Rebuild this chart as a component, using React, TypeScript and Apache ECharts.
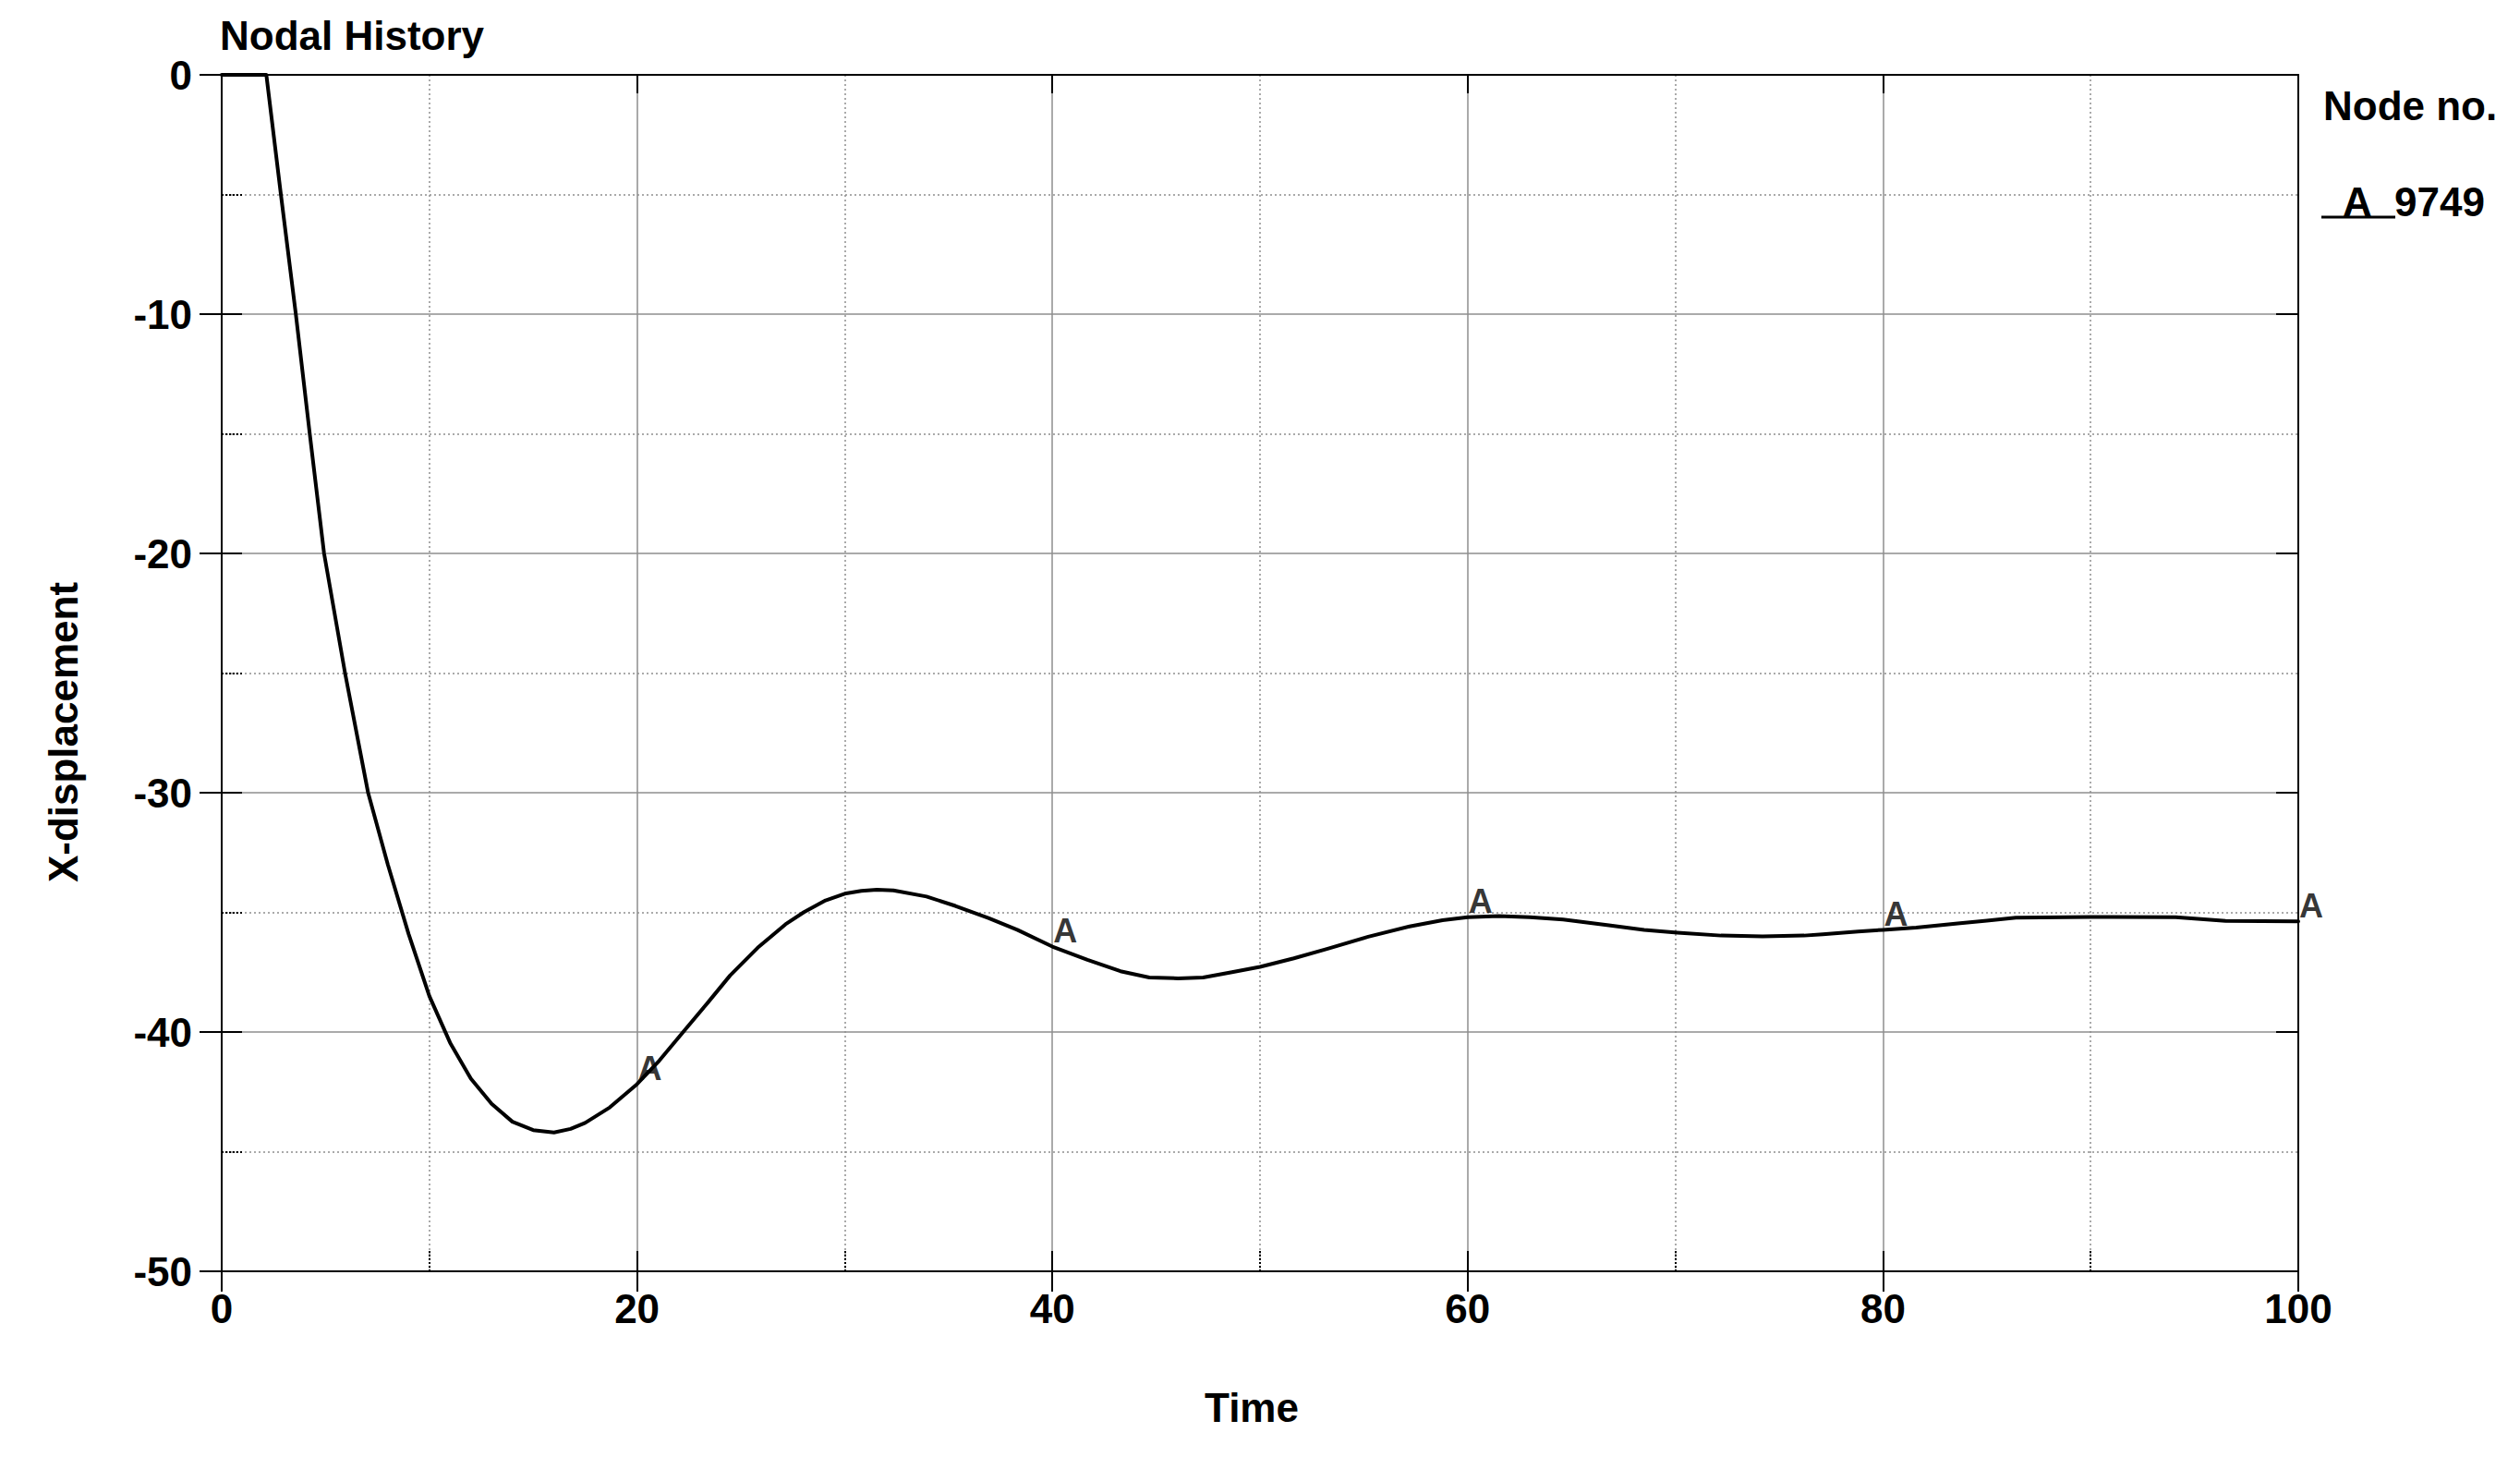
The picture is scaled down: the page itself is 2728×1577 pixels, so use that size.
import React, { useEffect, useRef } from "react";
import * as echarts from "echarts";

const FONT = '"Liberation Sans", Arial, Helvetica, sans-serif';

// Time axis ticks and displacement ticks
const timeTicks = [0, 20, 40, 60, 80, 100];
const dispTicks = [-50, -40, -30, -20, -10, 0];

// Node 9749 X-displacement history
const times = [
  0, 2.15, 2.85, 3.57, 4.24, 4.93, 5.94, 7.05, 8.0, 9.0, 10.0, 11.0, 12.0,
  13.0, 14.0, 15.0, 16.0, 16.8, 17.5, 18.69, 20.0, 21.07, 22.25, 23.44, 24.48,
  25.81, 27.15, 28.04, 29.08, 30.0, 30.8, 31.55, 32.35, 33.94, 35.33, 36.92,
  38.31, 40.0, 41.69, 43.28, 44.67, 46.06, 47.26, 48.65, 50.0, 51.63, 53.22,
  55.21, 57.2, 58.79, 60.0, 61.5, 63.0, 64.6, 66.8, 68.5, 70.1, 72.2, 74.2,
  76.2, 77.1, 78.8, 80.0, 81.6, 83.6, 85.0, 86.4, 90.0, 94.1, 96.5, 100,
];
const xDisplacement = [
  0, 0, -5, -10, -15, -20, -25, -30, -33.0, -35.9, -38.5, -40.45, -41.95,
  -43.0, -43.75, -44.1, -44.2, -44.05, -43.8, -43.15, -42.18, -41.2, -39.97,
  -38.74, -37.64, -36.48, -35.5, -34.99, -34.5, -34.22, -34.1, -34.05, -34.08,
  -34.34, -34.73, -35.24, -35.73, -36.43, -36.98, -37.46, -37.72, -37.76,
  -37.72, -37.5, -37.28, -36.92, -36.53, -36.02, -35.59, -35.33, -35.2, -35.15,
  -35.2, -35.3, -35.54, -35.73, -35.85, -35.97, -36.0, -35.97, -35.92, -35.8,
  -35.73, -35.64, -35.46, -35.35, -35.22, -35.19, -35.2, -35.36, -35.38,
];

// "A" curve markers
const markerTimes = [20, 40, 60, 80, 100];
const markerValues = [-42.18, -36.43, -35.2, -35.73, -35.38];
const nodeId = "9749";

export default function App() {
  const ref = useRef<HTMLDivElement>(null);

  useEffect(() => {
    if (!ref.current) return;
    const chart = echarts.init(ref.current, undefined, { renderer: "svg" });

    const xMin = timeTicks[0];
    const xMax = timeTicks[timeTicks.length - 1];
    const xInt = timeTicks[1] - timeTicks[0];
    const yMin = dispTicks[0];
    const yMax = dispTicks[dispTicks.length - 1];
    const yInt = dispTicks[1] - dispTicks[0];

    const gridRect = { left: 240, top: 81, right: 240, bottom: 201 };
    const black = "#000";
    const gridGray = "#8e8e8e";
    const labelStyle = {
      fontSize: 44,
      fontWeight: "bold" as const,
      color: black,
      fontFamily: FONT,
    };

    const baseX = {
      type: "value" as const,
      min: xMin,
      max: xMax,
      interval: xInt,
    };
    const baseY = {
      type: "value" as const,
      min: yMin,
      max: yMax,
      interval: yInt,
    };

    const option: any = {
      animation: false,
      backgroundColor: "#fff",
      title: {
        text: "Nodal History",
        left: 238,
        top: 16,
        padding: 0,
        textStyle: { ...labelStyle },
      },
      grid: [
        { ...gridRect, containLabel: false },
        { ...gridRect, containLabel: false },
      ],
      xAxis: [
        {
          ...baseX,
          gridIndex: 0,
          position: "bottom",
          name: "Time",
          nameLocation: "middle",
          nameGap: 125,
          nameTextStyle: { ...labelStyle, padding: [0, 18, 0, 0] },
          axisLine: { show: true, onZero: false, lineStyle: { color: black, width: 2 } },
          axisTick: { show: true, inside: false, length: 22, lineStyle: { color: black, width: 2 } },
          axisLabel: { ...labelStyle, margin: 18 },
          splitLine: {
            show: true,
            showMinLine: false,
            showMaxLine: false,
            lineStyle: { color: gridGray, width: 1.5 },
          },
          minorTick: { show: false, splitNumber: 2 },
          minorSplitLine: { show: true, lineStyle: { color: gridGray, width: 1.5, type: [2, 3] } },
        },
        {
          ...baseX,
          gridIndex: 0,
          position: "top",
          axisLine: { show: true, onZero: false, lineStyle: { color: black, width: 2 } },
          axisTick: { show: true, inside: true, length: 20, lineStyle: { color: black, width: 2 } },
          axisLabel: { show: false },
          splitLine: { show: false },
        },
        {
          ...baseX,
          gridIndex: 1,
          position: "bottom",
          axisLine: { show: true, onZero: false, lineStyle: { color: black, width: 2 } },
          axisTick: { show: true, inside: true, length: 22, lineStyle: { color: black, width: 2 } },
          minorTick: {
            show: true,
            splitNumber: 2,
            length: 24,
            lineStyle: { color: black, width: 2, type: [2, 2] },
          },
          axisLabel: { show: false },
          splitLine: { show: false },
        },
      ],
      yAxis: [
        {
          ...baseY,
          gridIndex: 0,
          position: "left",
          name: "X-displacement",
          nameLocation: "middle",
          nameGap: 150,
          nameTextStyle: { ...labelStyle, padding: [0, 128, 0, 0] },
          axisLine: { show: true, onZero: false, lineStyle: { color: black, width: 2 } },
          axisTick: { show: true, inside: false, length: 24, lineStyle: { color: black, width: 2 } },
          axisLabel: { ...labelStyle, margin: 32 },
          splitLine: {
            show: true,
            showMinLine: false,
            showMaxLine: false,
            lineStyle: { color: gridGray, width: 1.5 },
          },
          minorTick: { show: false, splitNumber: 2 },
          minorSplitLine: { show: true, lineStyle: { color: gridGray, width: 1.5, type: [2, 3] } },
        },
        {
          ...baseY,
          gridIndex: 0,
          position: "right",
          axisLine: { show: true, onZero: false, lineStyle: { color: black, width: 2 } },
          axisTick: { show: true, inside: true, length: 24, lineStyle: { color: black, width: 2 } },
          axisLabel: { show: false },
          splitLine: { show: false },
        },
        {
          ...baseY,
          gridIndex: 1,
          position: "left",
          axisLine: { show: true, onZero: false, lineStyle: { color: black, width: 2 } },
          axisTick: { show: true, inside: true, length: 22, lineStyle: { color: black, width: 2 } },
          minorTick: {
            show: true,
            splitNumber: 2,
            length: 23,
            lineStyle: { color: black, width: 2, type: [2, 2] },
          },
          axisLabel: { show: false },
          splitLine: { show: false },
        },
      ],
      series: [
        {
          name: nodeId,
          type: "line",
          xAxisIndex: 0,
          yAxisIndex: 0,
          data: times.map((t, i) => [t, xDisplacement[i]]),
          showSymbol: false,
          symbol: "none",
          clip: false,
          smooth: false,
          lineStyle: { color: black, width: 4, join: "round", cap: "round" },
          z: 5,
        },
        {
          name: "A",
          type: "scatter",
          xAxisIndex: 0,
          yAxisIndex: 0,
          data: markerTimes.map((t, i) => [t, markerValues[i]]),
          symbolSize: 0,
          clip: false,
          itemStyle: { color: black },
          label: {
            show: true,
            formatter: "A",
            position: [1, 1],
            align: "left",
            verticalAlign: "bottom",
            fontSize: 36,
            fontWeight: "bold",
            fontFamily: FONT,
            color: black,
          },
          z: 6,
        },
      ],
      graphic: [
        {
          type: "text",
          left: 2515,
          top: 92,
          style: { text: "Node no.", font: `bold 44px ${FONT}`, fill: black },
        },
        {
          type: "text",
          left: 2536,
          top: 196,
          style: { text: "A", font: `bold 44px ${FONT}`, fill: black },
        },
        {
          type: "text",
          left: 2592,
          top: 196,
          style: { text: nodeId, font: `bold 44px ${FONT}`, fill: black },
        },
        {
          type: "line",
          shape: { x1: 2513, y1: 235, x2: 2593, y2: 235 },
          style: { stroke: black, lineWidth: 3 },
        },
      ],
    };

    chart.setOption(option);
    return () => chart.dispose();
  }, []);

  return (
    <div
      ref={ref}
      style={{
        position: "fixed",
        left: 0,
        top: 0,
        width: 2728,
        height: 1577,
        background: "#fff",
      }}
    />
  );
}
